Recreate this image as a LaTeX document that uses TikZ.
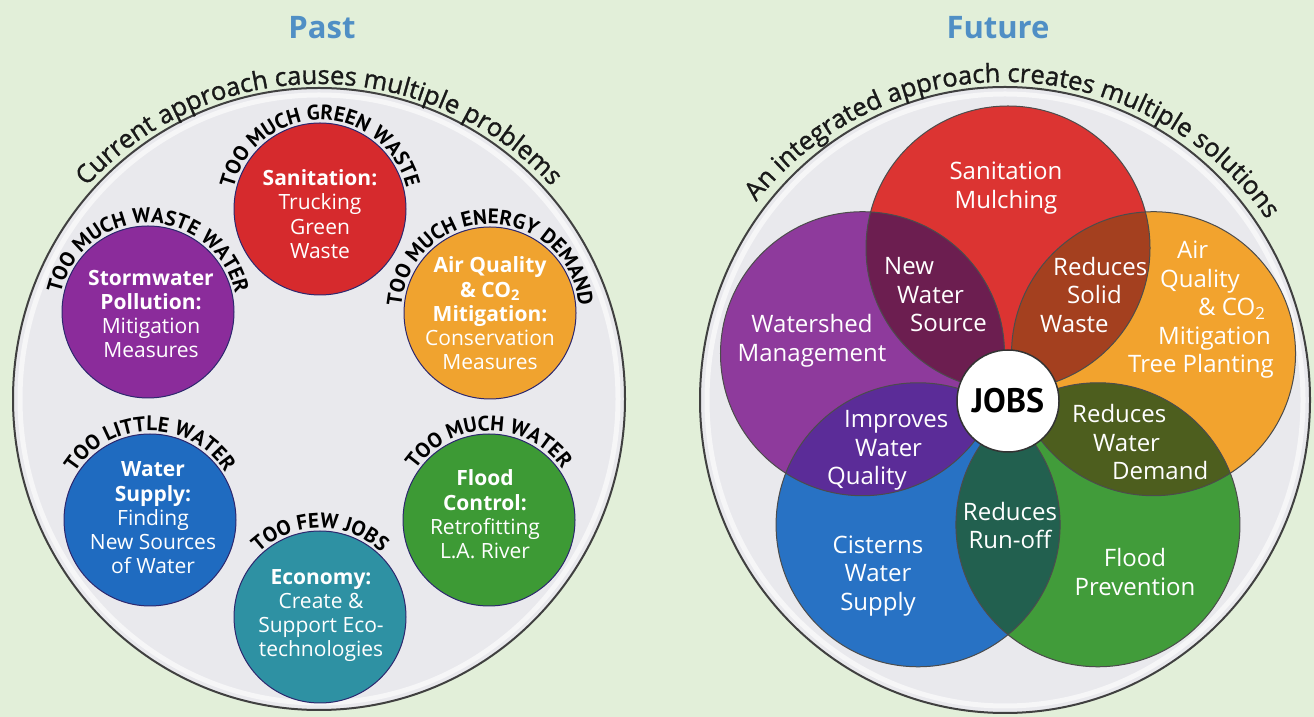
\documentclass[tikz,border=0pt]{standalone}
\usepackage{fontspec}
\setmainfont{Open Sans}
\newfontfamily\capfont{PT Sans}
\newfontfamily\ringfont[FakeBold=1.2]{Open Sans}
\usetikzlibrary{decorations.text}
\definecolor{bgreen}{RGB}{226,239,217}
\definecolor{ringfill}{RGB}{233,233,237}
\definecolor{ringline}{RGB}{64,64,64}
\definecolor{titleblue}{RGB}{80,143,197}
\definecolor{navyline}{RGB}{45,40,110}
\definecolor{pred}{RGB}{214,42,45}
\definecolor{ppurple}{RGB}{139,44,155}
\definecolor{porange}{RGB}{240,163,47}
\definecolor{pblue}{RGB}{31,107,192}
\definecolor{pteal}{RGB}{46,145,163}
\definecolor{pgreen}{RGB}{61,154,53}
\definecolor{fred}{RGB}{220,52,50}
\definecolor{forange}{RGB}{242,163,46}
\definecolor{fgreen}{RGB}{65,156,58}
\definecolor{fblue}{RGB}{40,114,196}
\definecolor{fpurple}{RGB}{142,58,156}
\definecolor{ovnew}{RGB}{108,30,80}
\definecolor{ovsolid}{RGB}{164,64,31}
\definecolor{ovdemand}{RGB}{77,94,30}
\definecolor{ovrunoff}{RGB}{34,96,79}
\definecolor{ovquality}{RGB}{91,44,152}
\begin{document}
\begin{tikzpicture}[x=1pt,y=1pt,line join=round,line cap=round]
	\tikzset{
		ring/.style={fill=ringfill,draw=ringline,line width=2pt},
		problem/.style={fill=#1,draw=navyline,line width=1pt},
		ptext/.style={text=white,align=center,inner sep=0pt,font=\fontsize{21}{24.3}\selectfont},
		ftext/.style={text=white,inner sep=0pt,font=\fontsize{24}{28.5}\selectfont},
		title/.style={text=titleblue,font=\fontsize{31}{31}\selectfont\bfseries},
		arclabel/.style={decorate,decoration={text along path,text align=center,
				text={|\capfont\bfseries\fontsize{21}{21}\selectfont|#1}}},
		ringlabel/.style={decorate,decoration={text along path,text align=center,
				text={|\color{black!90}\ringfont\fontsize{25.5}{25.5}\selectfont|#1}}}
	}
	\useasboundingbox (0,0) rectangle (1314,717);
	\fill[bgreen] (0,0) rectangle (1314,717);
	\node[title] (past) at (322,689) {Past};
	\node[title] (future) at (998,689) {Future};
	% past
	\coordinate (lc) at (319,318);
	\draw[ring] (lc) ellipse[x radius=306,y radius=311];
	\draw[white,line width=5pt,opacity=.6] (lc) ellipse[x radius=299,y radius=304];
	\path[ringlabel=Current approach causes multiple problems] (lc) ++(170:315) arc[start angle=170,end angle=10,radius=315];
	\foreach \n/\x/\y/\c in {san/320/508/pred,storm/148/405/ppurple,air/490/404/porange,
		supply/150/197/pblue,flood/489/197/pgreen,econ/320/100/pteal}{
		\coordinate (\n) at (\x,\y);
		\filldraw[problem=\c] (\n) circle[radius=86];
	}
	\path[arclabel=TOO MUCH GREEN WASTE] (san) ++(210:89) arc[start angle=210,end angle=-30,radius=89];
	\path[arclabel=TOO MUCH WASTE WATER] (storm) ++(210:89) arc[start angle=210,end angle=-30,radius=89];
	\path[arclabel=TOO MUCH ENERGY DEMAND] (air) ++(210:89) arc[start angle=210,end angle=-30,radius=89];
	\path[arclabel=TOO LITTLE WATER] (supply) ++(210:89) arc[start angle=210,end angle=-30,radius=89];
	\path[arclabel=TOO MUCH WATER] (flood) ++(210:89) arc[start angle=210,end angle=-30,radius=89];
	\path[arclabel=TOO FEW JOBS] (econ) ++(210:89) arc[start angle=210,end angle=-30,radius=89];
	\node[ptext] (santext) at (320,503) {\textbf{Sanitation:}\\Trucking\\Green\\Waste};
	\node[ptext] (stormtext) at (151,403) {\textbf{Stormwater}\\\textbf{Pollution:}\\Mitigation\\Measures};
	\node[ptext] (airtext) at (490,403.5) {\textbf{Air Quality}\\\textbf{\& CO\textsubscript{2}}\\\textbf{Mitigation:}\\Conservation\\Measures};
	\node[ptext] (supplytext) at (153,199) {\textbf{Water}\\\textbf{Supply:}\\Finding\\New Sources\\of Water};
	\node[ptext] (floodtext) at (485,202.5) {\textbf{Flood}\\\textbf{Control:}\\Retrofitting\\L.A. River};
	\node[ptext] (econtext) at (321,101.5) {\textbf{Economy:}\\Create \&\\Support Eco-\\technologies};
	% future
	\coordinate (rc) at (1005,317);
	\draw[ring] (rc) ellipse[x radius=305,y radius=313];
	\draw[white,line width=5pt,opacity=.6] (rc) ellipse[x radius=298,y radius=306];
	\path[ringlabel=An integrated approach creates multiple solutions] (rc) ++(168:318) arc[start angle=168,end angle=8,radius=318];
	\coordinate (jobsc) at (1008,316);
	\foreach \n/\a/\c in {wsan/90/fred,wair/18/forange,wflood/-54/fgreen,wcist/-126/fblue,wshed/162/fpurple}{
		\path (jobsc) ++(\a:153) coordinate (\n);
		\fill[\c] (\n) circle[radius=142];
	}
	\foreach \p/\q/\c in {wshed/wsan/ovnew,wsan/wair/ovsolid,wair/wflood/ovdemand,wflood/wcist/ovrunoff,wcist/wshed/ovquality}{
		\begin{scope}
			\clip (\p) circle[radius=142];
			\fill[\c] (\q) circle[radius=142];
		\end{scope}
	}
	\foreach \n in {wsan,wair,wflood,wcist,wshed}
		\draw[black!70,line width=1pt] (\n) circle[radius=142];
	\node[circle,fill=white,draw=black!80,line width=1.5pt,minimum size=102pt,inner sep=0pt,
		font=\capfont\bfseries\fontsize{34}{34}\selectfont] (jobs) at (jobsc) {JOBS};
	\node[ftext,align=center] (sanmtext) at (1006,529) {Sanitation\\Mulching};
	\node[ftext,align=left,anchor=west] (newtext) at (884,422) {New\\\hspace*{13pt}Water\\\hspace*{26pt}Source};
	\node[ftext,align=left,anchor=west] (solidtext) at (1040,422) {\hspace*{13pt}Reduces\\\hspace*{27pt}Solid\\Waste};
	\node[ftext,align=left,anchor=west] (airqtext) at (1128,407) {\hspace*{49pt}Air\\\hspace*{32pt}Quality\\\hspace*{70pt}\& CO\textsubscript{2}\\\hspace*{30pt}Mitigation\\Tree Planting};
	\node[ftext,align=center] (shedtext) at (812,376) {Watershed\\Management};
	\node[ftext,align=left,anchor=west] (improvetext) at (827,266.5) {\hspace*{17pt}Improves\\\hspace*{28pt}Water\\Quality};
	\node[ftext,align=left,anchor=west] (demandtext) at (1072,274.5) {Reduces\\\hspace*{21pt}Water\\\hspace*{40pt}Demand};
	\node[ftext,align=center] (runofftext) at (1010,191.5) {Reduces\\Run-off};
	\node[ftext,align=center] (cisterntext) at (878,141) {Cisterns\\Water\\Supply};
	\node[ftext,align=center] (floodptext) at (1135,145) {Flood\\Prevention};
\end{tikzpicture}
\end{document}
